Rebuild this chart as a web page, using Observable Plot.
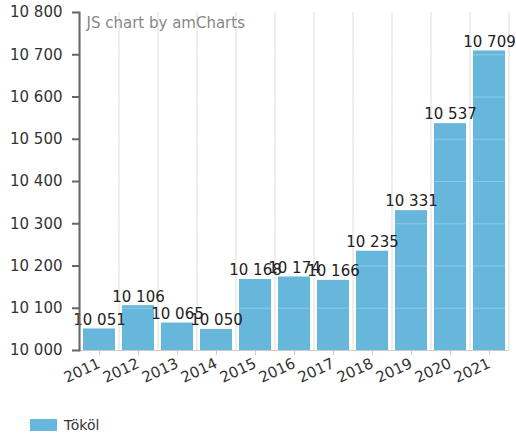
<!DOCTYPE html>
<html>
<head>
<meta charset="utf-8">
<script src="https://cdn.jsdelivr.net/npm/d3@7"></script>
<script src="https://cdn.jsdelivr.net/npm/@observablehq/plot@0.6"></script>
<style>
  body { margin: 0; background: #fff; font-family: "DejaVu Sans", Verdana, sans-serif; }
  #legend { display: flex; align-items: center; padding: 17px 0 0 30px; font-size: 14px; color: #333; }
  #legend .sw { width: 27px; height: 12px; background: #67b7dc; margin-right: 7px; }
</style>
</head>
<body>
<div id="chart"></div>
<div id="legend"><span class="sw"></span><span>Tököl</span></div>
<script>
const years = ["2011","2012","2013","2014","2015","2016","2017","2018","2019","2020","2021"];
const values = [10051, 10106, 10065, 10050, 10168, 10174, 10166, 10235, 10331, 10537, 10709];
const yTicks = [10000, 10100, 10200, 10300, 10400, 10500, 10600, 10700, 10800];
const seriesName = "Tököl";
const credit = "JS chart by amCharts";

const data = years.map((y, i) => ({year: y, value: values[i]}));
const fmt = d => String(d).replace(/\B(?=(\d{3})+(?!\d))/g, " ");

const W = 516, H = 400, mL = 79, mR = 8, mT = 12, mB = 50;
const step = (W - mL - mR) / years.length;

const chart = Plot.plot({
  width: W, height: H,
  marginLeft: mL, marginRight: mR, marginTop: mT, marginBottom: mB,
  style: {fontFamily: "DejaVu Sans, Verdana, sans-serif", fontSize: "15px", color: "#333", background: "#fff", overflow: "visible"},
  x: {domain: years, paddingInner: 0.18, paddingOuter: 0.09},
  y: {domain: [10000, 10800]},
  marks: [
    Plot.tickX(years, {x: d => d, dx: -step / 2, stroke: "#e8e8e8", strokeWidth: 1.5}),
    Plot.tickX([years[years.length - 1]], {x: d => d, dx: step / 2, stroke: "#e8e8e8", strokeWidth: 1.5}),
    Plot.barY(data, {x: "year", y1: 10000, y2: "value", fill: "#67b7dc"}),
    Plot.ruleY(yTicks.slice(1), {stroke: "#fff", strokeOpacity: 0.25}),
    Plot.text(data, {x: "year", y: "value", text: d => fmt(d.value), dy: -9, fill: "#222", fontSize: 15}),
    Plot.frame({anchor: "bottom", stroke: "#ccc"}),
    Plot.frame({anchor: "left", stroke: "#666", strokeWidth: 2}),
    Plot.axisY({ticks: yTicks, tickFormat: fmt, tickSize: 7, tickPadding: 10, stroke: "#666", strokeWidth: 2, fill: "#333", fontSize: 15, label: null}),
    Plot.axisX({tickRotate: -25, tickSize: 5, tickPadding: 7, stroke: "#ccc", fill: "#333", fontSize: 15, label: null}),
    Plot.text([credit], {frameAnchor: "top-left", text: d => d, dx: 7, dy: 5, fill: "#888", fontSize: 15})
  ]
});
document.getElementById("chart").appendChild(chart);
</script>
</body>
</html>
